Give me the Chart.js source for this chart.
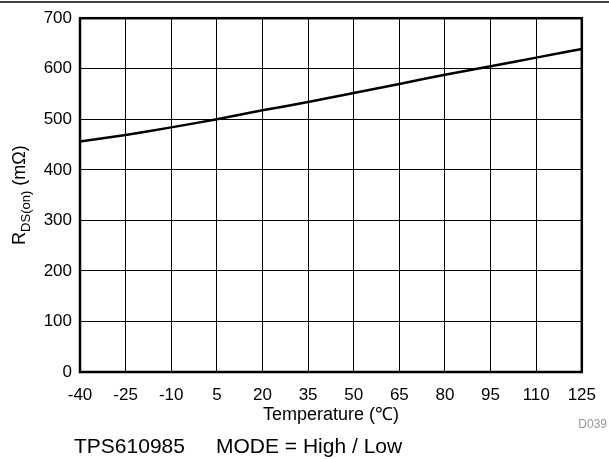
<!DOCTYPE html>
<html>
<head>
<meta charset="utf-8">
<script src="https://cdn.jsdelivr.net/npm/chart.js@4/dist/chart.umd.min.js"></script>
<style>
  html, body { margin: 0; padding: 0; background: #fff; }
  #wrap { width: 609px; height: 459px; position: relative; }
</style>
</head>
<body>
<div id="wrap"><canvas id="chart"></canvas></div>
<script>
// temperature (°C) vs RDS(on) (mΩ)
const temps = [-40, -25, -10, 5, 20, 35, 50, 65, 80, 95, 110, 125];
const rdson = [456, 469, 484, 500, 518, 534, 552, 570, 588, 605, 622, 639];

const xMin = -40, xMax = 125, xStep = 15;
const yMin = 0, yMax = 700, yStep = 100;

const xTitle = 'Temperature (\u2103)';
const yTitleMain = 'R';
const yTitleSub = 'DS(on)';
const yTitleUnit = ' (m\u03A9)';
const noteText = 'TPS610985';
const modeText = 'MODE = High / Low';
const figId = 'D039';

const FONT = 'Arial, "Liberation Sans", sans-serif';

// frame, top rule and extra text
const extras = {
    id: 'extras',
    afterDraw(chart) {
        const ctx = chart.ctx;
        const a = chart.chartArea;
        ctx.save();

        // rule across the top of the page
        ctx.strokeStyle = '#000';
        ctx.lineWidth = 1.5;
        ctx.beginPath();
        ctx.moveTo(0, 2);
        ctx.lineTo(chart.width, 2);
        ctx.stroke();

        // plot frame
        ctx.lineWidth = 2.5;
        ctx.strokeRect(a.left, a.top, a.right - a.left, a.bottom - a.top);

        // y title with subscript
        ctx.fillStyle = '#000';
        ctx.textBaseline = 'alphabetic';
        ctx.translate(25, (a.top + a.bottom) / 2);
        ctx.rotate(-Math.PI / 2);
        const big = '18px ' + FONT, small = '13px ' + FONT;
        ctx.font = big;
        const w1 = ctx.measureText(yTitleMain).width;
        const w3 = ctx.measureText(yTitleUnit).width;
        ctx.font = small;
        const w2 = ctx.measureText(yTitleSub).width;
        let x = -(w1 + w2 + w3) / 2;
        ctx.font = big;
        ctx.fillText(yTitleMain, x, 0);
        x += w1;
        ctx.font = small;
        ctx.fillText(yTitleSub, x, 5);
        x += w2;
        ctx.font = big;
        ctx.fillText(yTitleUnit, x, 0);
        ctx.setTransform(1, 0, 0, 1, 0, 0);
        ctx.scale(chart.currentDevicePixelRatio, chart.currentDevicePixelRatio);

        // x title
        ctx.font = '18px ' + FONT;
        ctx.textAlign = 'center';
        ctx.fillText(xTitle, (a.left + a.right) / 2, a.bottom + 48);

        // figure id
        ctx.font = '12px ' + FONT;
        ctx.fillStyle = '#999';
        ctx.textAlign = 'right';
        ctx.fillText(figId, chart.width - 2, a.bottom + 56);

        // conditions line
        ctx.font = '21px ' + FONT;
        ctx.fillStyle = '#000';
        ctx.textAlign = 'left';
        ctx.fillText(noteText, 74, a.bottom + 81);
        ctx.fillText(modeText, 216, a.bottom + 81);

        ctx.restore();
    }
};

const points = temps.map((t, i) => ({ x: t, y: rdson[i] }));

new Chart(document.getElementById('chart'), {
    type: 'line',
    data: {
        datasets: [{
            data: points,
            borderColor: '#000',
            borderWidth: 2.5,
            pointRadius: 0,
            tension: 0.2,
            fill: false
        }]
    },
    options: {
        responsive: true,
        maintainAspectRatio: false,
        animation: false,
        layout: { padding: { left: 0, right: 27, top: 16, bottom: 0 } },
        plugins: {
            legend: { display: false },
            tooltip: { enabled: false }
        },
        scales: {
            x: {
                type: 'linear',
                min: xMin,
                max: xMax,
                afterFit(scale) { scale.height = 87; },
                ticks: {
                    stepSize: xStep,
                    color: '#000',
                    padding: 13,
                    maxRotation: 0,
                    autoSkip: false,
                    font: { family: FONT, size: 17 }
                },
                grid: { color: '#000', lineWidth: 1, drawTicks: false },
                border: { display: false }
            },
            y: {
                min: yMin,
                max: yMax,
                afterFit(scale) { scale.width = 80; },
                ticks: {
                    stepSize: yStep,
                    color: '#000',
                    padding: 8,
                    font: { family: FONT, size: 17 }
                },
                grid: { color: '#000', lineWidth: 1, drawTicks: false },
                border: { display: false }
            }
        }
    },
    plugins: [extras]
});
</script>
</body>
</html>
